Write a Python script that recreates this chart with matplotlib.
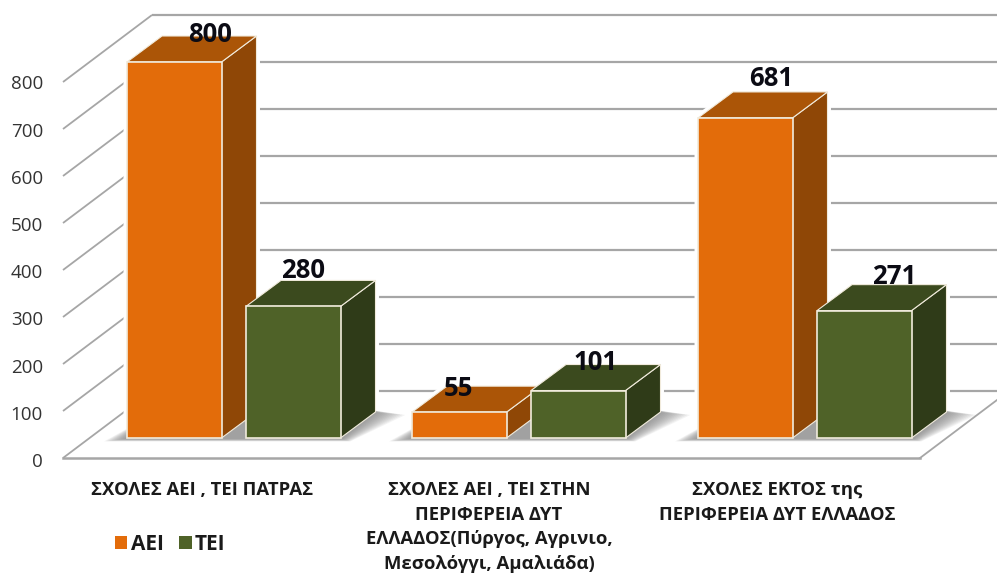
import matplotlib
matplotlib.use("Agg")
import matplotlib.pyplot as plt
from matplotlib.patches import Polygon, Patch

# ---- data ----
categories = ["ΣΧΟΛΕΣ ΑΕΙ , ΤΕΙ ΠΑΤΡΑΣ",
              "ΣΧΟΛΕΣ ΑΕΙ , ΤΕΙ ΣΤΗΝ\nΠΕΡΙΦΕΡΕΙΑ ΔΥΤ\nΕΛΛΑΔΟΣ(Πύργος, Αγρινιο,\nΜεσολόγγι, Αμαλιάδα)",
              "ΣΧΟΛΕΣ ΕΚΤΟΣ της\nΠΕΡΙΦΕΡΕΙΑ ΔΥΤ ΕΛΛΑΔΟΣ"]
aei = [800, 55, 681]
tei = [280, 101, 271]
ticks = [0, 100, 200, 300, 400, 500, 600, 700, 800]

# ---- layout (pixels of the 997x577 canvas) ----
W, H = 997, 577
BASE = 438.0          # pixel row of value 0 at the front of the bars
PX = 0.47             # pixels per unit
def dy(px):           # pixel distance -> value units
    return px / PX
def vy(py):           # pixel row -> value units
    return (BASE - py) / PX

aei_x = [127, 412, 698]
tei_x = [246, 531, 817]
BAR_W = 94.5
DX, DY = 35, 26
aei_lab = [(210, 34), (458, 388), (771, 79)]
tei_lab = [(303, 270), (596, 363), (894, 276)]
cat_pos = [(202, 481), (489, 481), (777, 481)]

C = {"aei": ("#E36C0A", "#AB5507", "#8F4706"),
     "tei": ("#4F6228", "#3B4A1E", "#2F3B18")}
EDGE = "#F1EBDC"
GRID = "#A6A6A6"
FONT = "Open Sans"

fig = plt.figure(figsize=(W / 100, H / 100), dpi=100)
ax = fig.add_axes([0, 0, 1, 1])
ax.set_xlim(0, W)
ax.set_ylim(vy(H), vy(0))
ax.axis("off")

# walls and floor
FX0, FX1, FY0 = 63, 920, 458      # front floor line
WDX, WDY = 89, 67                 # depth of the chart box
for t in ticks:
    front = vy(FY0) + t
    back = front + dy(WDY)
    ax.plot([FX0, FX0 + WDX], [front, back], color=GRID, lw=1.3, zorder=1, solid_capstyle="butt")
    ax.plot([FX0 + WDX, W], [back, back], color=GRID, lw=1.6, zorder=1, solid_capstyle="butt")
ax.plot([FX0, FX1], [vy(FY0)] * 2, color=GRID, lw=1.8, zorder=1)
ax.plot([FX1, FX1 + 77], [vy(FY0), vy(FY0 - 58)], color=GRID, lw=1.3, zorder=1)

# halo behind the blocks, then soft floor shadows
def outline(x, v):
    x1 = x + BAR_W
    return [(x, 0), (x1, 0), (x1 + DX, dy(DY)), (x1 + DX, v + dy(DY)), (x + DX, v + dy(DY)), (x, v)]

for xs, vals in ((aei_x, aei), (tei_x, tei)):
    for x, v in zip(xs, vals):
        ax.add_patch(Polygon(outline(x, v), closed=True, fc="white", ec="white", lw=5, zorder=1.5))

for xa, xt in zip(aei_x, tei_x):
    xr = xt + BAR_W
    for k in range(12):
        g = (11 - k) * 1.8
        pts = [(xa - 3 - g, -dy(1 + g * .12)), (xr + 2 + g * .4, -dy(1 + g * .12)),
               (xr + DX + 2 + g * 1.4, dy(DY - 1 - g * .1)), (xr + DX - 6, dy(DY + 2)),
               (xa + 12, dy(12 + g * .2))]
        ax.add_patch(Polygon(pts, closed=True, fc="#777777", ec="none", alpha=0.085, zorder=2))


def block(x, v, cols, z):
    x1 = x + BAR_W
    side = [(x1, 0), (x1 + DX, dy(DY)), (x1 + DX, v + dy(DY)), (x1, v)]
    top = [(x, v), (x1, v), (x1 + DX, v + dy(DY)), (x + DX, v + dy(DY))]
    ax.add_patch(Polygon(side, closed=True, fc=cols[2], ec=EDGE, lw=0.8, zorder=z))
    ax.add_patch(Polygon(top, closed=True, fc=cols[1], ec=EDGE, lw=0.8, zorder=z))
    ax.bar([x], [v], width=BAR_W, align="edge", color=cols[0], edgecolor=EDGE, linewidth=1.2, zorder=z + 0.5)


for i in range(len(aei)):
    block(aei_x[i], aei[i], C["aei"], 4 + i * 2)
    block(tei_x[i], tei[i], C["tei"], 5 + i * 2)

# data labels
for vals, pos in ((aei, aei_lab), (tei, tei_lab)):
    for v, (px, py) in zip(vals, pos):
        ax.text(px, vy(py), str(v), ha="center", va="center", family=FONT, fontweight="bold",
                fontsize=18.5, color="#0B0B14", zorder=20)

# value axis labels
for t in ticks:
    ax.text(43, vy(462) + t * (47.2 / 47.0), str(t), ha="right", va="center", family=FONT,
            fontsize=13.5, color="#333333", zorder=20)

# category labels
for c, (px, py) in zip(categories, cat_pos):
    ax.text(px, vy(py), c, ha="center", va="top", family=FONT, fontweight="bold", fontsize=13.3,
            color="#1A1A1A", linespacing=1.47, zorder=20)

# legend
handles = [Patch(fc=C["aei"][0], ec="none", label="ΑΕΙ"), Patch(fc=C["tei"][0], ec="none", label="ΤΕΙ")]
ax.legend(handles=handles, loc="center left", bbox_to_anchor=(96 / W, 1 - 544 / H), ncol=2, frameon=False,
          prop={"family": FONT, "weight": "bold", "size": 15}, handlelength=0.6, handleheight=0.6,
          handletextpad=0.16, columnspacing=0.75, labelcolor="#1A1A1A")

fig.savefig("out.png", dpi=100)
